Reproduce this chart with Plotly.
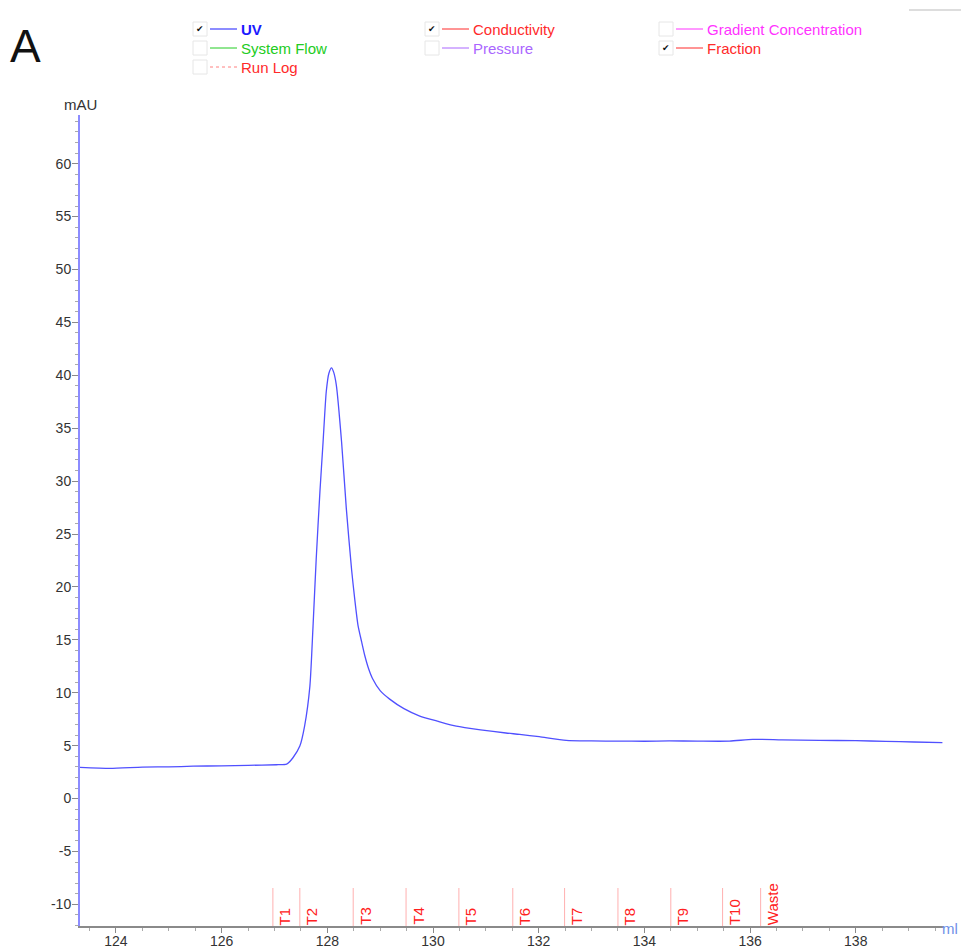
import plotly.graph_objects as go

# ---------------- data ----------------
uv_ml = [123.32, 123.89, 124.5, 125.0, 125.46, 126.0, 126.5, 127.04, 127.23, 127.35, 127.48, 127.57,
         127.67, 127.73, 127.79, 127.86, 127.92, 127.98, 128.03, 128.08, 128.12, 128.17, 128.27,
         128.36, 128.46, 128.52, 128.58, 128.65, 128.71, 128.78, 128.86, 129.0, 129.18, 129.45,
         129.75, 130.1, 130.44, 130.9, 131.38, 131.64, 132.01, 132.52, 133.0, 133.53, 134.0,
         134.47, 135.0, 135.61, 136.05, 136.6, 137.31, 138.0, 138.57, 139.1, 139.64]
uv_mau = [2.95, 2.86, 2.98, 3.0, 3.06, 3.1, 3.14, 3.2, 3.25, 3.86, 4.96, 6.85,
          10.6, 16.3, 22.65, 28.97, 33.7, 38.45, 40.2, 40.7, 40.3, 39.1, 33.7,
          27.4, 21.6, 18.8, 16.4, 14.8, 13.5, 12.3, 11.3, 10.2, 9.4, 8.5,
          7.8, 7.3, 6.85, 6.5, 6.2, 6.07, 5.85, 5.5, 5.45, 5.43, 5.42,
          5.45, 5.43, 5.43, 5.6, 5.55, 5.5, 5.48, 5.4, 5.35, 5.28]

y_tick_vals = [-10, -5, 0, 5, 10, 15, 20, 25, 30, 35, 40, 45, 50, 55, 60]
y_tick_text = ["-10", "-5", "0", "5", "10", "15", "20", "25", "30", "35", "40", "45", "50", "55", "60"]

frac_pos = [126.97, 127.48, 128.49, 129.49, 130.49, 131.51, 132.49, 133.50, 134.50, 135.48, 136.20]
frac_lbl = ["T1", "T2", "T3", "T4", "T5", "T6", "T7", "T8", "T9", "T10", "Waste"]

legend_names = ["UV", "Conductivity", "Gradient Concentration", "System Flow", "Pressure",
                "Fraction", "Run Log"]
legend_colors = ["#1a1aff", "#ff2a2a", "#ff33ff", "#22cc22", "#aa66ff", "#ff2a2a", "#ff2a2a"]
legend_checked = [True, True, False, False, False, True, False]

# ---------------- geometry (reference pixels -> paper) ----------------
W, H = 961, 950
AX_L, AX_R, AX_T, AX_B = 80, 944, 115, 926   # plot area in reference pixels
L, T = AX_L, AX_T
R, B = W - AX_R, H - AX_B
PW, PH = AX_R - AX_L, AX_B - AX_T


def px(x):
    return (x - AX_L) / PW


def py(y):
    return (AX_B - y) / PH


FONT = "Liberation Sans, Arial, Helvetica"

fig = go.Figure()
fig.add_trace(go.Scatter(x=uv_ml, y=uv_mau, mode="lines",
                         line=dict(color="#5050ff", width=1.3, shape="spline", smoothing=0.6),
                         hoverinfo="skip", showlegend=False))

shapes = []
annos = []

# fraction marks
for xv, lb in zip(frac_pos, frac_lbl):
    shapes.append(dict(type="line", xref="x", yref="paper", x0=xv, x1=xv, y0=0, y1=py(888),
                       line=dict(color="#ffb0b0", width=1)))
    annos.append(dict(x=xv, xref="x", y=0, yref="paper", text=lb, textangle=-90,
                      showarrow=False, xanchor="left", yanchor="bottom", xshift=1, yshift=-1,
                      font=dict(family=FONT, size=15, color="#ff2020")))

# legend block at top
cols_x = [193, 425, 659]
rows_y = [29, 48, 67]
positions = [(0, 0), (1, 0), (2, 0), (0, 1), (1, 1), (2, 1), (0, 2)]
for (ci, ri), name, col, chk in zip(positions, legend_names, legend_colors, legend_checked):
    cx = cols_x[ci]
    cy = rows_y[ri]
    shapes.append(dict(type="rect", xref="paper", yref="paper",
                       x0=px(cx), x1=px(cx + 14), y0=py(cy - 7), y1=py(cy + 7),
                       line=dict(color="#e6e6e6", width=1), fillcolor="white"))
    if chk:
        annos.append(dict(x=px(cx + 7), y=py(cy), xref="paper", yref="paper", text="✔",
                          showarrow=False, xanchor="center", yanchor="middle",
                          font=dict(family="DejaVu Sans", size=9, color="#111111")))
    dash = "dot" if name == "Run Log" else "solid"
    lcol = "#ff8080" if name == "Run Log" else col
    shapes.append(dict(type="line", xref="paper", yref="paper",
                       x0=px(cx + 17), x1=px(cx + 44), y0=py(cy), y1=py(cy),
                       line=dict(color=lcol, width=1, dash=dash)))
    txt = "<b>%s</b>" % name if name == "UV" else name
    annos.append(dict(x=px(cx + 46), y=py(cy), xref="paper", yref="paper", text=txt,
                      showarrow=False, xanchor="left", yanchor="middle",
                      font=dict(family=FONT, size=15, color=col)))

# top-right gray line
shapes.append(dict(type="line", xref="paper", yref="paper", x0=px(909), x1=px(961),
                   y0=py(10), y1=py(10), line=dict(color="#dddddd", width=2)))

# panel letter
annos.append(dict(x=px(8), y=py(46), xref="paper", yref="paper", text="A", showarrow=False,
                  xanchor="left", yanchor="middle",
                  font=dict(family=FONT, size=46, color="#111111")))
# axis unit labels
annos.append(dict(x=0, y=py(104), xref="paper", yref="paper", text="mAU", showarrow=False,
                  xanchor="center", yanchor="middle",
                  font=dict(family=FONT, size=15, color="#333333")))
annos.append(dict(x=px(960), y=0, xref="paper", yref="paper", text="ml", showarrow=False,
                  xanchor="right", yanchor="middle", yshift=-2,
                  font=dict(family=FONT, size=15, color="#6f8fe8")))

fig.update_layout(
    width=W, height=H,
    margin=dict(l=L, r=R, t=T, b=B, autoexpand=False),
    paper_bgcolor="white", plot_bgcolor="white",
    shapes=shapes, annotations=annos,
    font=dict(family=FONT, size=14, color="#333333"),
)
fig.update_xaxes(range=[123.32, 139.67], dtick=2, tick0=124, showgrid=False, zeroline=False,
                 automargin=False,
                 showline=True, linecolor="#8a8a8a", linewidth=2,
                 ticks="outside", ticklen=5, tickcolor="#8a8a8a", tickwidth=1,
                 ticklabelstandoff=-4,
                 minor=dict(dtick=0.5, tick0=124, ticks="outside", ticklen=3, tickcolor="#aaaaaa"),
                 tickfont=dict(family=FONT, size=14, color="#333333"))
fig.update_yaxes(range=[-12.04, 64.6], tickmode="array", tickvals=y_tick_vals, ticktext=y_tick_text,
                 showgrid=False, zeroline=False, automargin=False,
                 showline=True, linecolor="#8c8cff", linewidth=2,
                 ticks="outside", ticklen=6, tickcolor="#8a8a8a", tickwidth=1,
                 ticklabelstandoff=-2,
                 minor=dict(dtick=1, tick0=0, ticks="outside", ticklen=3, tickcolor="#aaaaaa"),
                 tickfont=dict(family=FONT, size=14, color="#333333"))

fig.write_html("out.html",
               config={"displayModeBar": False},
               post_script="document.body.style.margin='0';document.body.style.overflow='hidden';")
